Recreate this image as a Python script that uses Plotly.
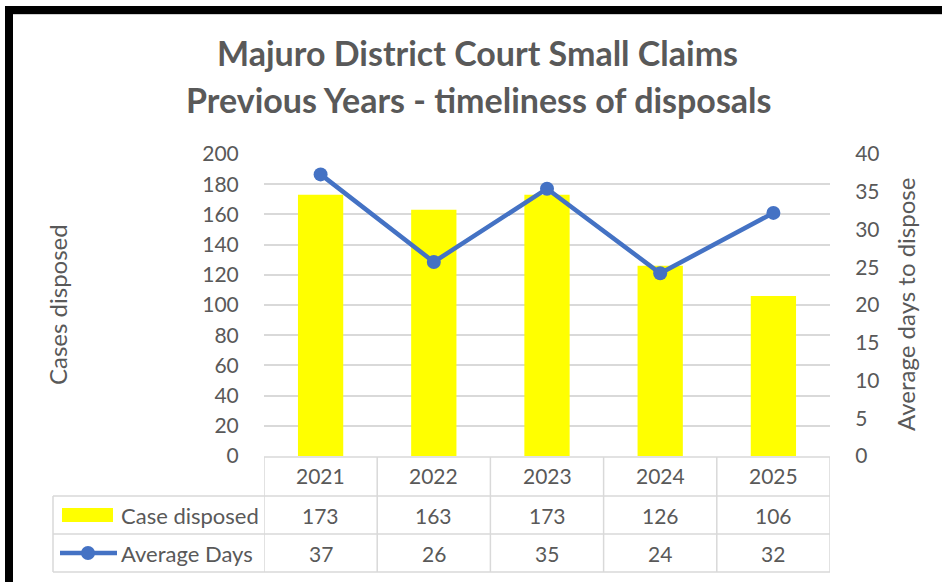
import plotly.graph_objects as go

years = ["2021", "2022", "2023", "2024", "2025"]
cases_disposed = [173, 163, 173, 126, 106]
average_days = [37.3, 25.7, 35.4, 24.2, 32.2]
left_ticks = list(range(0, 201, 20))
right_ticks = list(range(0, 41, 5))
title_lines = ["Majuro District Court Small Claims", "Previous Years - timeliness of disposals"]
row_labels = ["Case disposed", "Average Days"]

W, H = 942, 582
L, R, T, B = 264, 830, 154, 456
FONT = "Lato"
GREY = "#595959"
GRID = "#d9d9d9"
BLUE = "#4472C4"
YEL = "#FFFF00"

def px(x):
    return (x - L) / (R - L)

def py(y):
    return (B - y) / (B - T)

fig = go.Figure()
fig.add_trace(go.Bar(x=years, y=cases_disposed, marker=dict(color=YEL, line=dict(width=0)),
                     name=row_labels[0], yaxis="y"))
fig.add_trace(go.Scatter(x=years, y=average_days, mode="lines+markers", name=row_labels[1],
                         line=dict(color=BLUE, width=4.5), marker=dict(size=14, color=BLUE),
                         yaxis="y2"))

shapes = []
annotations = []

def ann(x, y, text, size, xref="paper", xanchor="center", angle=0, bold=False):
    annotations.append(dict(x=x, y=y, xref=xref, yref="paper", text=f"<b>{text}</b>" if bold else text,
                            showarrow=False, xanchor=xanchor, yanchor="middle", textangle=angle,
                            font=dict(family=FONT, size=size, color=GREY)))

# table grid lines
rows_y = [457, 496, 534, 572]
shapes.append(dict(type="line", xref="paper", yref="paper", x0=px(264), x1=px(830),
                   y0=py(457), y1=py(457), line=dict(color=GRID, width=1.5)))
for yy in rows_y[1:]:
    shapes.append(dict(type="line", xref="paper", yref="paper", x0=px(53), x1=px(830),
                       y0=py(yy), y1=py(yy), line=dict(color=GRID, width=1.5)))
for i in range(len(years) + 1):
    shapes.append(dict(type="line", xref="x", yref="paper", x0=i - 0.5, x1=i - 0.5,
                       y0=py(457), y1=py(572), line=dict(color=GRID, width=1.5)))
shapes.append(dict(type="line", xref="paper", yref="paper", x0=px(53), x1=px(53),
                   y0=py(496), y1=py(572), line=dict(color=GRID, width=1.5)))

# legend keys
shapes.append(dict(type="rect", xref="paper", yref="paper", x0=px(62), x1=px(113),
                   y0=py(508), y1=py(522), fillcolor=YEL, line=dict(width=0)))
shapes.append(dict(type="line", xref="paper", yref="paper", x0=px(60), x1=px(117),
                   y0=py(553), y1=py(553), line=dict(color=BLUE, width=4.5)))
shapes.append(dict(type="circle", xref="paper", yref="paper", x0=px(81), x1=px(95),
                   y0=py(546), y1=py(560), fillcolor=BLUE, line=dict(width=0)))

# outer black border (top and left)
shapes.append(dict(type="rect", xref="paper", yref="paper", x0=px(5), x1=px(950),
                   y0=py(6), y1=py(14), fillcolor="black", line=dict(width=0)))
shapes.append(dict(type="line", xref="paper", yref="paper", x0=px(13), x1=px(950),
                   y0=py(14.5), y1=py(14.5), line=dict(color="#d0d0d0", width=1)))
shapes.append(dict(type="rect", xref="paper", yref="paper", x0=px(5), x1=px(13),
                   y0=py(6), y1=py(590), fillcolor="black", line=dict(width=0)))

# table text
for i, yr in enumerate(years):
    ann(i, py(476), yr, 21, xref="x")
    ann(i, py(515), str(cases_disposed[i]), 21, xref="x")
    ann(i, py(553), str(round(average_days[i])), 21, xref="x")
ann(px(119), py(515), row_labels[0], 22, xanchor="left")
ann(px(119), py(553), row_labels[1], 22, xanchor="left")

# axis titles
ann(px(57), py(305), "Cases disposed", 24, angle=-90)
ann(px(905), py(305), "Average days to dispose", 24, angle=-90)

# title
ann(px(477), py(53), title_lines[0], 34, bold=True)
ann(px(478), py(99), title_lines[1], 34, bold=True)

fig.update_layout(
    width=W, height=H,
    margin=dict(l=L, r=W - R, t=T, b=H - B),
    paper_bgcolor="white", plot_bgcolor="white",
    showlegend=False,
    bargap=0.6,
    font=dict(family=FONT, color=GREY, size=20),
    xaxis=dict(type="category", categoryorder="array", categoryarray=years, range=[-0.5, 4.5],
               showticklabels=False, showgrid=False, zeroline=False, showline=False, ticks=""),
    yaxis=dict(range=[0, 200], tickvals=left_ticks, showgrid=True, gridcolor=GRID, gridwidth=1.5,
               zeroline=False, showline=False, ticks="outside", ticklen=20, tickcolor="rgba(0,0,0,0)",
               tickfont=dict(family=FONT, size=21, color=GREY)),
    yaxis2=dict(range=[0, 40], tickvals=right_ticks, overlaying="y", side="right", showgrid=False,
                zeroline=False, showline=False, ticks="outside", ticklen=20, tickcolor="rgba(0,0,0,0)",
                tickfont=dict(family=FONT, size=21, color=GREY)),
    shapes=shapes,
    annotations=annotations,
)

fig.write_html("out.html", config={"displayModeBar": False},
               post_script="document.body.style.margin='0';")
